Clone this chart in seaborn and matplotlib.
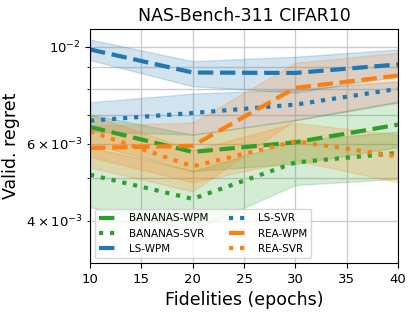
import numpy as np
import pandas as pd
import matplotlib
matplotlib.use("Agg")
import matplotlib.pyplot as plt
import seaborn as sns

fidelities = [10, 20, 30, 40]

# mean / lower / upper regret per method
bananas_wpm = [6.56e-3, 5.75e-3, 6.05e-3, 6.64e-3]
bananas_wpm_lo = [6.0e-3, 5.2e-3, 5.4e-3, 5.9e-3]
bananas_wpm_hi = [7.0e-3, 6.3e-3, 6.8e-3, 7.5e-3]

bananas_svr = [5.10e-3, 4.49e-3, 5.44e-3, 5.72e-3]
bananas_svr_lo = [4.3e-3, 3.8e-3, 4.83e-3, 4.99e-3]
bananas_svr_hi = [5.9e-3, 5.2e-3, 6.1e-3, 6.4e-3]

ls_wpm = [9.87e-3, 8.74e-3, 8.72e-3, 9.12e-3]
ls_wpm_lo = [9.33e-3, 8.13e-3, 7.86e-3, 8.57e-3]
ls_wpm_hi = [10.4e-3, 9.28e-3, 9.5e-3, 9.87e-3]

ls_svr = [6.78e-3, 7.06e-3, 7.38e-3, 8.02e-3]
ls_svr_lo = [6.4e-3, 6.3e-3, 6.8e-3, 7.46e-3]
ls_svr_hi = [7.47e-3, 7.82e-3, 7.99e-3, 8.35e-3]

rea_wpm = [5.87e-3, 5.94e-3, 8.06e-3, 8.60e-3]
rea_wpm_lo = [5.3e-3, 4.67e-3, 6.82e-3, 7.5e-3]
rea_wpm_hi = [6.6e-3, 6.71e-3, 9.2e-3, 9.7e-3]

rea_svr = [6.41e-3, 5.33e-3, 6.08e-3, 5.62e-3]
rea_svr_lo = [5.6e-3, 4.9e-3, 5.5e-3, 4.9e-3]
rea_svr_hi = [7.0e-3, 5.8e-3, 6.7e-3, 6.3e-3]

methods = [
    ("BANANAS-WPM", bananas_wpm, bananas_wpm_lo, bananas_wpm_hi, "tab:green", "--"),
    ("BANANAS-SVR", bananas_svr, bananas_svr_lo, bananas_svr_hi, "tab:green", ":"),
    ("LS-WPM", ls_wpm, ls_wpm_lo, ls_wpm_hi, "tab:blue", "--"),
    ("LS-SVR", ls_svr, ls_svr_lo, ls_svr_hi, "tab:blue", ":"),
    ("REA-WPM", rea_wpm, rea_wpm_lo, rea_wpm_hi, "tab:orange", "--"),
    ("REA-SVR", rea_svr, rea_svr_lo, rea_svr_hi, "tab:orange", ":"),
]

fig = plt.figure(figsize=(4.15, 3.14), dpi=100)
ax = fig.add_axes([0.217, 0.162, 0.742, 0.746])

for name, mean, lo, hi, color, ls in methods:
    df = pd.DataFrame({"fidelity": fidelities, "regret": mean})
    sns.lineplot(data=df, x="fidelity", y="regret", ax=ax, color=color,
                 linestyle=ls, linewidth=3, label=name)
    ax.fill_between(fidelities, lo, hi, color=color, alpha=0.2)

ax.set_yscale("log")
ax.set_xlim(10, 40)
ax.set_ylim(3.2e-3, 1.1e-2)
ax.grid(True, which="both", color="#cccccc", linewidth=1)
ax.set_axisbelow(True)

ax.set_title("NAS-Bench-311 CIFAR10", fontsize=12.5)
ax.set_xlabel("Fidelities (epochs)", fontsize=12.5)
ax.set_ylabel("Valid. regret", fontsize=12.5, labelpad=4)
ax.tick_params(axis="both", which="both", labelsize=9.5)

ax.legend(ncol=2, loc="lower left", fontsize=7.5, framealpha=0.8)

fig.savefig("out.png", dpi=100)
